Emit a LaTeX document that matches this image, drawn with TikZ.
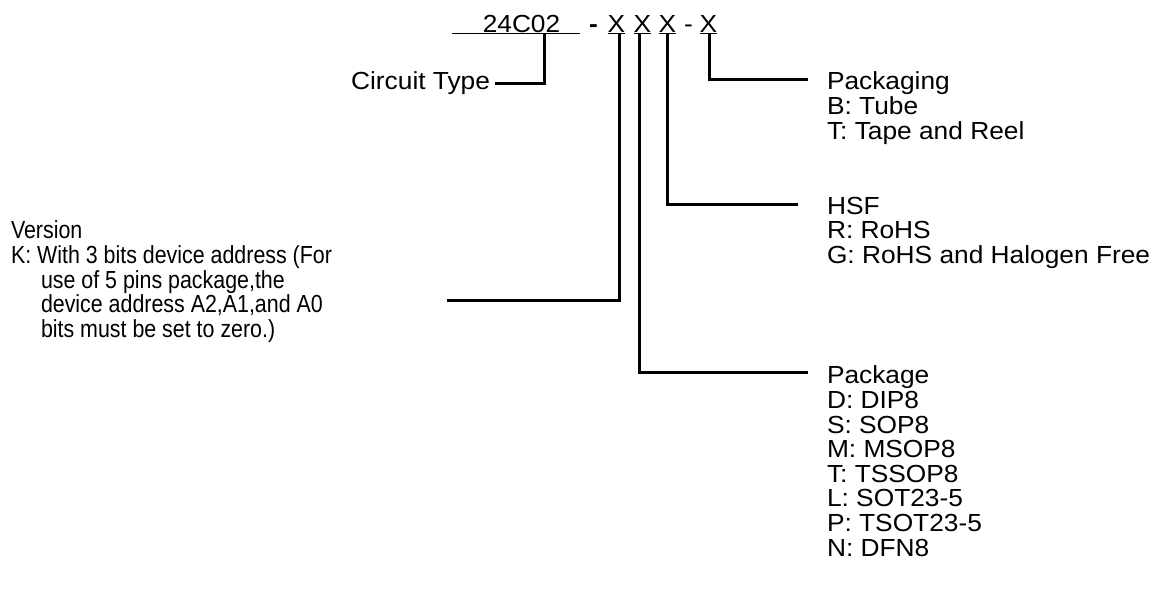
\documentclass[tikz,border=0pt]{standalone}
\usepackage{fontspec}
\setmainfont{Liberation Sans}[FakeStretch=1.065]
\newfontfamily\versionfont{Liberation Sans}[FakeStretch=0.866]
\lineskiplimit=-100pt
\tikzset{
  lbl/.style={inner sep=0, outer sep=0, align=left,
    font=\fontsize{12.35}{12.3}\selectfont},
  conn/.style={line width=1.5pt},
  uline/.style={line width=0.65pt},
}

\begin{document}
\begin{tikzpicture}[x=0.5pt,y=-0.5pt]
  \useasboundingbox (0,0) rectangle (1165,601);
  \node[lbl, anchor=base] (part) at (521.5,32) {24C02};
  \node[lbl, anchor=base] (dash) at (593.5,32) {\bfseries -};
  \node[lbl, anchor=base] (x1) at (616.5,32) {X};
  \node[lbl, anchor=base] (x2) at (642.5,32) {X};
  \node[lbl, anchor=base] (x3) at (667.5,32) {X};
  \node[lbl, anchor=base] (sep) at (688.5,32) {-};
  \node[lbl, anchor=base] (x4) at (708.5,32) {X};
  \draw[uline] ([shift={(-31,1.7)}]part.base west) -- ([shift={(20,1.7)}]part.base east);
  \foreach \n in {x1,x2,x3,x4}
    \draw[uline] ([yshift=-0.85pt]\n.base west) -- ([yshift=-0.85pt]\n.base east);

  \node[lbl, anchor=east] (ct) at (490,83) {Circuit Type};
  \node[lbl, anchor=north west] (pkg) at (827,72) {Packaging\\B: Tube\\T: Tape and Reel};
  \node[lbl, anchor=north west] (hsf) at (827,197) {HSF\\R: RoHS\\G: RoHS and Halogen Free};
  \node[lbl, anchor=north west] (pack) at (827,366)
    {Package\\D: DIP8\\S: SOP8\\M: MSOP8\\T: TSSOP8\\L: SOT23-5\\P: TSOT23-5\\N: DFN8};
  \node[lbl, anchor=north west, font=\versionfont\fontsize{12.35}{12.3}\selectfont] (ver) at (11,221)
    {Version\\K: With 3 bits device address (For\\\hspace*{15pt}use of 5 pins package,the\\
     \hspace*{15pt}device address A2,A1,and A0\\\hspace*{15pt}bits must be set to zero.)};

  \coordinate (pkgin) at (808,79);
  \coordinate (hsfin) at (798,204);
  \coordinate (packin) at (808,372);
  \coordinate (verin) at (447,300);

  \draw[conn] ([shift={(22.5,2)}]part.base) |- ([xshift=2.5pt]ct.east);
  \draw[conn] ([shift={(2.5,2)}]x1.base) |- (verin);
  \draw[conn] ([shift={(-3.5,2)}]x2.base) |- (packin);
  \draw[conn] ([shift={(-0.5,2)}]x3.base) |- (hsfin);
  \draw[conn] ([shift={(0.5,2)}]x4.base) |- (pkgin);
\end{tikzpicture}
\end{document}
